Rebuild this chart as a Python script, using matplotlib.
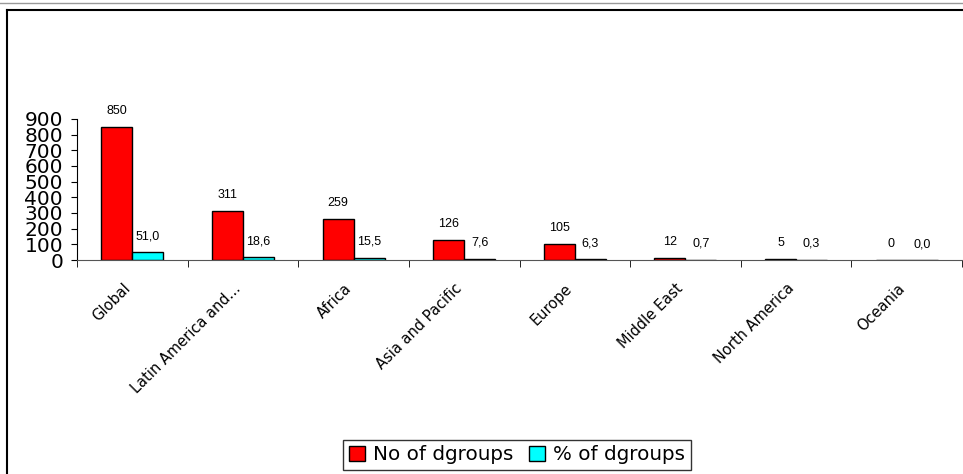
import matplotlib.pyplot as plt
from matplotlib.lines import Line2D
from matplotlib.transforms import ScaledTranslation
import numpy as np

regions = ["Global", "Latin America and...", "Africa", "Asia and Pacific",
           "Europe", "Middle East", "North America", "Oceania"]
no_dgroups = [850, 311, 259, 126, 105, 12, 5, 0]
pct_dgroups = [51.0, 18.6, 15.5, 7.6, 6.3, 0.7, 0.3, 0.0]

fig = plt.figure(figsize=(9.63, 4.74), dpi=100)
ax = fig.add_axes([77 / 963, 1 - 260 / 474, 885 / 963, 141 / 474])

x = np.arange(len(regions))
w = 0.28
b1 = ax.bar(x - w / 2, no_dgroups, w, color='#ff0000', edgecolor='black',
            linewidth=1, label="No of dgroups")
b2 = ax.bar(x + w / 2, pct_dgroups, w, color='#00ffff', edgecolor='black',
            linewidth=1, label="% of dgroups")

for i in range(len(regions)):
    ax.annotate(str(no_dgroups[i]), (x[i] - w / 2, no_dgroups[i]),
                xytext=(0, 11.5), textcoords='offset points', ha='center',
                va='center', fontsize=9, family='Liberation Sans')
    ax.annotate(("%.1f" % pct_dgroups[i]).replace('.', ','),
                (x[i] + w / 2, pct_dgroups[i]), xytext=(0, 11.5),
                textcoords='offset points', ha='center', va='center',
                fontsize=9, family='Liberation Sans')

ax.set_xlim(-0.5, len(regions) - 0.5)
ax.set_ylim(0, 900)
ax.set_yticks(range(0, 901, 100))
ax.tick_params(axis='y', labelsize=14.5, length=4, pad=6)
ax.set_xticks(x)
ax.set_xticklabels(regions, rotation=45, ha='right', rotation_mode='anchor',
                   fontsize=10.5)
ax.tick_params(axis='x', length=0, pad=15)
shift = ScaledTranslation(-10 / 100, 0, fig.dpi_scale_trans)
for lab in ax.get_xticklabels():
    lab.set_transform(lab.get_transform() + shift)
ax.set_xticks(np.arange(-0.5, len(regions)), minor=True)
ax.tick_params(axis='x', which='minor', length=5, direction='out')
ax.spines['top'].set_visible(False)
ax.spines['right'].set_visible(False)
ax.spines['bottom'].set_color('#555555')

fig.legend(handles=[b1, b2], loc='center', bbox_to_anchor=(517 / 963, 1 - 455 / 474),
           ncol=2, fontsize=14.3, frameon=True, fancybox=False, edgecolor='black',
           handlelength=0.8, handleheight=0.8, handletextpad=0.4, columnspacing=0.8,
           borderpad=0.3)

# frame of the original chart area
fig.add_artist(Line2D([0, 1], [1 - 3 / 474, 1 - 3 / 474], color='#999999', lw=1))
fig.add_artist(Line2D([7 / 963, 1], [1 - 10 / 474, 1 - 10 / 474], color='black', lw=1.5))
fig.add_artist(Line2D([7 / 963, 7 / 963], [0, 1 - 10 / 474], color='black', lw=1.5))

fig.savefig("out.png", dpi=100)
